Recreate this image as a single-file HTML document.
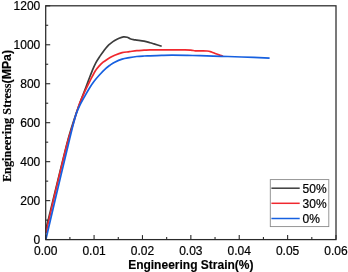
<!DOCTYPE html>
<html><head><meta charset="utf-8"><style>
html,body{margin:0;padding:0;background:#fff;}
body{width:348px;height:272px;overflow:hidden;}
svg{display:block;will-change:transform;opacity:0.999;}
text{font-family:"Liberation Sans",sans-serif;}
</style></head><body>
<svg width="348" height="272" viewBox="0 0 348 272">
<rect x="0" y="0" width="348" height="272" fill="#fff"/>
<g fill="none" stroke-linejoin="round" stroke-linecap="butt" stroke-width="1.7">
<path d="M45.90 229.50 C47.22 224.08 50.35 211.08 53.80 197.00 C57.25 182.92 63.48 157.08 66.60 145.00 C69.72 132.92 70.90 129.77 72.50 124.50 C74.10 119.23 74.92 117.10 76.20 113.40 C77.48 109.70 78.90 105.83 80.20 102.30 C81.50 98.77 82.60 95.90 84.00 92.20 C85.40 88.50 87.23 83.67 88.60 80.10 C89.97 76.53 91.00 73.68 92.20 70.80 C93.40 67.92 94.50 65.25 95.80 62.80 C97.10 60.35 98.68 58.08 100.00 56.10 C101.32 54.12 102.47 52.53 103.70 50.90 C104.93 49.27 106.18 47.58 107.40 46.30 C108.62 45.02 109.78 44.15 111.00 43.20 C112.22 42.25 113.35 41.42 114.70 40.60 C116.05 39.78 117.63 38.92 119.10 38.30 C120.57 37.68 122.15 37.07 123.50 36.90 C124.85 36.73 126.10 37.00 127.20 37.30 C128.30 37.60 129.05 38.32 130.10 38.70 C131.15 39.08 132.38 39.37 133.50 39.60 C134.62 39.83 135.03 39.83 136.80 40.10 C138.57 40.37 141.90 40.77 144.10 41.20 C146.30 41.63 148.35 42.25 150.00 42.70 C151.65 43.15 152.05 43.30 154.00 43.90 C155.95 44.50 160.42 45.90 161.70 46.30" stroke="#3c3c3c"/>
<path d="M45.90 233.00 C47.28 227.00 50.72 211.67 54.20 197.00 C57.68 182.33 63.67 157.08 66.80 145.00 C69.93 132.92 71.42 129.77 73.00 124.50 C74.58 119.23 75.13 117.10 76.30 113.40 C77.47 109.70 78.63 105.83 80.00 102.30 C81.37 98.77 82.85 95.73 84.50 92.20 C86.15 88.67 88.13 84.60 89.90 81.10 C91.67 77.60 93.53 73.73 95.10 71.20 C96.67 68.67 97.97 67.40 99.30 65.90 C100.63 64.40 101.75 63.32 103.10 62.20 C104.45 61.08 106.08 60.07 107.40 59.20 C108.72 58.33 109.78 57.67 111.00 57.00 C112.22 56.33 112.85 55.92 114.70 55.20 C116.55 54.48 119.65 53.28 122.10 52.70 C124.55 52.12 126.95 52.05 129.40 51.70 C131.85 51.35 134.35 50.85 136.80 50.60 C139.25 50.35 141.90 50.32 144.10 50.20 C146.30 50.08 147.07 49.97 150.00 49.90 C152.93 49.83 155.87 49.80 161.70 49.80 C167.53 49.80 180.13 49.85 185.00 49.90 C189.87 49.95 189.18 49.95 190.90 50.10 C192.62 50.25 193.83 50.67 195.30 50.80 C196.77 50.93 197.73 50.87 199.70 50.90 C201.67 50.93 205.13 50.82 207.10 51.00 C209.07 51.18 210.03 51.53 211.50 52.00 C212.97 52.47 214.43 53.23 215.90 53.80 C217.37 54.37 219.12 54.98 220.30 55.40 C221.48 55.82 222.55 56.15 223.00 56.30" stroke="#f0282e"/>
<path d="M45.90 239.30 C47.43 232.75 51.38 215.72 55.10 200.00 C58.82 184.28 65.18 157.58 68.20 145.00 C71.22 132.42 71.83 129.77 73.20 124.50 C74.57 119.23 75.30 116.58 76.40 113.40 C77.50 110.22 78.42 108.25 79.80 105.40 C81.18 102.55 83.10 99.17 84.70 96.30 C86.30 93.43 87.80 90.73 89.40 88.20 C91.00 85.67 92.63 83.30 94.30 81.10 C95.97 78.90 97.47 77.12 99.40 75.00 C101.33 72.88 104.13 70.03 105.90 68.40 C107.67 66.77 108.53 66.23 110.00 65.20 C111.47 64.17 112.68 63.22 114.70 62.20 C116.72 61.18 119.65 59.87 122.10 59.10 C124.55 58.33 126.95 58.03 129.40 57.60 C131.85 57.17 134.35 56.77 136.80 56.50 C139.25 56.23 141.90 56.12 144.10 56.00 C146.30 55.88 147.07 55.90 150.00 55.80 C152.93 55.70 158.03 55.50 161.70 55.40 C165.37 55.30 167.68 55.20 172.00 55.20 C176.32 55.20 182.93 55.32 187.60 55.40 C192.27 55.48 194.43 55.55 200.00 55.70 C205.57 55.85 214.05 56.08 221.00 56.30 C227.95 56.52 233.60 56.70 241.70 57.00 C249.80 57.30 264.95 57.92 269.60 58.10" stroke="#1660e0"/>
</g>
<rect x="45.70" y="5.80" width="290.30" height="233.80" fill="none" stroke="#2a2a2a" stroke-width="1.25"/>
<g stroke="#2a2a2a" stroke-width="1.1"><line x1="45.70" y1="239.60" x2="45.70" y2="235.10"/><line x1="69.89" y1="239.60" x2="69.89" y2="237.10"/><line x1="94.08" y1="239.60" x2="94.08" y2="235.10"/><line x1="118.28" y1="239.60" x2="118.28" y2="237.10"/><line x1="142.47" y1="239.60" x2="142.47" y2="235.10"/><line x1="166.66" y1="239.60" x2="166.66" y2="237.10"/><line x1="190.85" y1="239.60" x2="190.85" y2="235.10"/><line x1="215.04" y1="239.60" x2="215.04" y2="237.10"/><line x1="239.23" y1="239.60" x2="239.23" y2="235.10"/><line x1="263.43" y1="239.60" x2="263.43" y2="237.10"/><line x1="287.62" y1="239.60" x2="287.62" y2="235.10"/><line x1="311.81" y1="239.60" x2="311.81" y2="237.10"/><line x1="336.00" y1="239.60" x2="336.00" y2="235.10"/><line x1="45.70" y1="239.60" x2="50.20" y2="239.60"/><line x1="45.70" y1="220.12" x2="48.20" y2="220.12"/><line x1="45.70" y1="200.63" x2="50.20" y2="200.63"/><line x1="45.70" y1="181.15" x2="48.20" y2="181.15"/><line x1="45.70" y1="161.67" x2="50.20" y2="161.67"/><line x1="45.70" y1="142.18" x2="48.20" y2="142.18"/><line x1="45.70" y1="122.70" x2="50.20" y2="122.70"/><line x1="45.70" y1="103.22" x2="48.20" y2="103.22"/><line x1="45.70" y1="83.73" x2="50.20" y2="83.73"/><line x1="45.70" y1="64.25" x2="48.20" y2="64.25"/><line x1="45.70" y1="44.77" x2="50.20" y2="44.77"/><line x1="45.70" y1="25.28" x2="48.20" y2="25.28"/><line x1="45.70" y1="5.80" x2="50.20" y2="5.80"/></g>
<g font-size="12" fill="#000" stroke="#000" stroke-width="0.2"><text x="45.70" y="255" text-anchor="middle">0.00</text><text x="94.08" y="255" text-anchor="middle">0.01</text><text x="142.47" y="255" text-anchor="middle">0.02</text><text x="190.85" y="255" text-anchor="middle">0.03</text><text x="239.23" y="255" text-anchor="middle">0.04</text><text x="287.62" y="255" text-anchor="middle">0.05</text><text x="336.00" y="255" text-anchor="middle">0.06</text><text x="40.3" y="243.70" text-anchor="end">0</text><text x="40.3" y="204.73" text-anchor="end">200</text><text x="40.3" y="165.77" text-anchor="end">400</text><text x="40.3" y="126.80" text-anchor="end">600</text><text x="40.3" y="87.83" text-anchor="end">800</text><text x="40.3" y="48.87" text-anchor="end">1000</text><text x="40.3" y="9.90" text-anchor="end">1200</text></g>
<text x="190.8" y="268.6" text-anchor="middle" font-size="12" font-weight="bold" fill="#000" stroke="#000" stroke-width="0.15">Engineering Strain(%)</text>
<text transform="translate(10.7,182.1) rotate(-90)" font-size="12.32" font-weight="bold" fill="#000" stroke="#000" stroke-width="0.15"><tspan font-family="Liberation Serif, serif">Engineering Stress</tspan><tspan>(MPa)</tspan></text>
<rect x="270.3" y="179.6" width="58.5" height="47" fill="#fff" stroke="#8a8a8a" stroke-width="0.9"/>
<g stroke-width="1.5">
<line x1="271.4" y1="188.2" x2="299.7" y2="188.2" stroke="#3c3c3c"/>
<line x1="271.4" y1="203.3" x2="299.7" y2="203.3" stroke="#f0282e"/>
<line x1="271.4" y1="218.5" x2="299.7" y2="218.5" stroke="#1660e0"/>
</g>
<g font-size="12" fill="#000" stroke="#000" stroke-width="0.2">
<text x="302.6" y="192.5">50%</text>
<text x="302.6" y="207.6">30%</text>
<text x="302.6" y="222.8">0%</text>
</g>
</svg>
</body></html>
